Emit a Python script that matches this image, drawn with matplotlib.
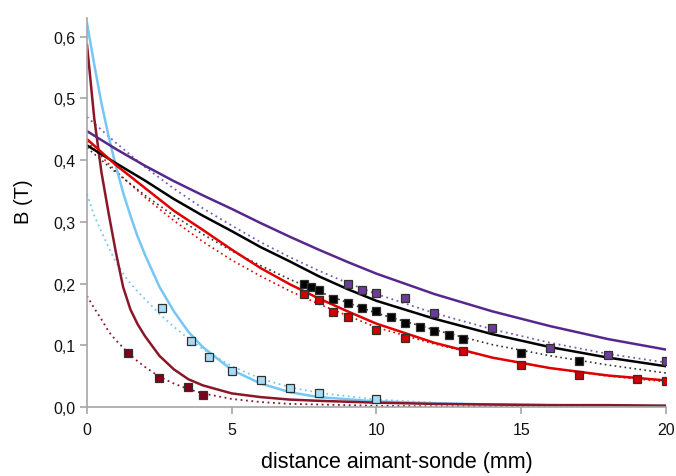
import matplotlib
matplotlib.use("Agg")
from matplotlib import pyplot as plt
from matplotlib.ticker import FuncFormatter

# --- data (distance in mm, B in T) ---
x_slow = [0, 1, 2, 3, 4, 5, 6, 7, 8, 9, 10, 12, 14, 16, 18, 20]
purple_fit = [0.447, 0.418, 0.391, 0.366, 0.343, 0.321, 0.298, 0.276, 0.255, 0.235, 0.216, 0.183, 0.155, 0.131, 0.110, 0.093]
purple_dot = [0.470, 0.428, 0.389, 0.354, 0.322, 0.294, 0.267, 0.243, 0.221, 0.201, 0.183, 0.152, 0.126, 0.104, 0.086, 0.072]
black_fit = [0.424, 0.395, 0.367, 0.337, 0.310, 0.285, 0.259, 0.236, 0.212, 0.191, 0.172, 0.143, 0.118, 0.097, 0.080, 0.066]
black_dot = [0.420, 0.380, 0.343, 0.310, 0.280, 0.253, 0.229, 0.207, 0.187, 0.169, 0.152, 0.125, 0.101, 0.083, 0.068, 0.055]
red_fit = [0.434, 0.392, 0.355, 0.318, 0.287, 0.255, 0.225, 0.199, 0.176, 0.155, 0.135, 0.104, 0.080, 0.063, 0.051, 0.043]
red_dot = [0.430, 0.382, 0.340, 0.302, 0.268, 0.238, 0.212, 0.188, 0.167, 0.148, 0.129, 0.102, 0.080, 0.063, 0.050, 0.041]

x_fast = [0, 0.25, 0.5, 0.75, 1, 1.25, 1.5, 1.75, 2, 2.5, 3, 3.5, 4, 5, 6, 7, 8, 10, 12, 14, 16, 18, 20]
blue_fit = [0.622, 0.555, 0.492, 0.438, 0.390, 0.347, 0.310, 0.276, 0.247, 0.195, 0.155, 0.122, 0.097,
            0.060, 0.038, 0.024, 0.016, 0.009, 0.006, 0.004, 0.003, 0.002, 0.002]
blue_dot = [0.345, 0.310, 0.284, 0.258, 0.235, 0.216, 0.200, 0.187, 0.175, 0.151, 0.130, 0.111, 0.094,
            0.066, 0.046, 0.032, 0.023, 0.012, 0.007, 0.004, 0.003, 0.002, 0.001]
dred_fit = [0.587, 0.468, 0.380, 0.313, 0.250, 0.194, 0.158, 0.134, 0.115, 0.083, 0.061, 0.045, 0.035,
            0.022, 0.016, 0.012, 0.010, 0.007, 0.005, 0.004, 0.003, 0.003, 0.002]
dred_dot = [0.180, 0.160, 0.142, 0.122, 0.108, 0.096, 0.084, 0.074, 0.065, 0.049, 0.038, 0.029, 0.022,
            0.013, 0.008, 0.005, 0.004, 0.002, 0.001, 0.001, 0.001, 0.000, 0.000]

# measured points
purple_x = [9, 9.5, 10, 11, 12, 14, 16, 18, 20]
purple_y = [0.199, 0.190, 0.184, 0.176, 0.152, 0.128, 0.095, 0.085, 0.075]
black_x = [7.5, 7.75, 8, 8.5, 9, 9.5, 10, 10.5, 11, 11.5, 12, 12.5, 13, 15, 17]
black_y = [0.199, 0.195, 0.190, 0.175, 0.168, 0.161, 0.156, 0.146, 0.136, 0.130, 0.123, 0.117, 0.110, 0.088, 0.074]
red_x = [7.5, 8, 8.5, 9, 10, 11, 13, 15, 17, 19, 20]
red_y = [0.183, 0.173, 0.154, 0.146, 0.124, 0.112, 0.090, 0.068, 0.052, 0.045, 0.042]
blue_x = [2.6, 3.6, 4.2, 5, 6, 7, 8, 10]
blue_y = [0.160, 0.107, 0.081, 0.059, 0.043, 0.030, 0.023, 0.013]
dred_x = [1.4, 2.5, 3.5, 4]
dred_y = [0.087, 0.047, 0.033, 0.020]

c_purple = "#57288c"
c_purple_l = "#7a5cb4"
c_black = "#000000"
c_red = "#e00000"
c_blue = "#77c6f4"
c_dred = "#8a1628"

plt.rcParams["font.family"] = ["Liberation Sans", "DejaVu Sans"]

fig = plt.figure(figsize=(6.76, 4.77), dpi=100)
ax = fig.add_axes([0.1287, 0.1447, 0.8565, 0.815])

dot = (0, (1, 2))
ax.plot(x_fast, dred_dot, color=c_dred, lw=1.3, ls=dot)
ax.plot(x_fast, blue_dot, color=c_blue, lw=1.3, ls=dot)
ax.plot(x_slow, red_dot, color=c_red, lw=1.2, ls=dot)
ax.plot(x_slow, black_dot, color="#333333", lw=1.2, ls=dot)
ax.plot(x_slow, purple_dot, color=c_purple_l, lw=1.3, ls=dot)

ax.plot(x_fast, blue_fit, color=c_blue, lw=1.8)
ax.plot(x_fast, dred_fit, color=c_dred, lw=1.8)
ax.plot(x_slow, purple_fit, color=c_purple, lw=1.8)
ax.plot(x_slow, black_fit, color=c_black, lw=1.8)
ax.plot(x_slow, red_fit, color=c_red, lw=1.8)

mk = dict(ls="none", marker="s", ms=5.5, mec="#303030", mew=0.9)
ax.plot(purple_x, purple_y, mfc="#6a3d9a", **mk)
ax.plot(black_x, black_y, mfc="#000000", **mk)
ax.plot(red_x, red_y, mfc="#d00000", **mk)
ax.plot(blue_x, blue_y, mfc="#a6dcf6", **mk)
ax.plot(dred_x, dred_y, mfc="#800018", **mk)

ax.set_xlim(0, 20)
ax.set_ylim(0, 0.63)
ax.set_xticks([0, 5, 10, 15, 20])
ax.set_yticks([0, 0.1, 0.2, 0.3, 0.4, 0.5, 0.6])
ax.yaxis.set_major_formatter(FuncFormatter(lambda v, p: ("%.1f" % v).replace(".", ",")))

for s in ["top", "right"]:
    ax.spines[s].set_visible(False)
for s in ["left", "bottom"]:
    ax.spines[s].set_color("#a6a6a6")
    ax.spines[s].set_linewidth(1.2)
ax.tick_params(direction="out", length=5, width=1.2, color="#a6a6a6", labelsize=11.5, labelcolor="#111111")
ax.tick_params(axis="x", pad=6)

ax.set_ylabel("B (T)", fontsize=14.5)
ax.yaxis.set_label_coords(-0.093, 0.53)
ax.set_xlabel("distance aimant-sonde (mm)", fontsize=15.5)
ax.xaxis.set_label_coords(0.5345, -0.113)

fig.savefig("out.png", dpi=100)
